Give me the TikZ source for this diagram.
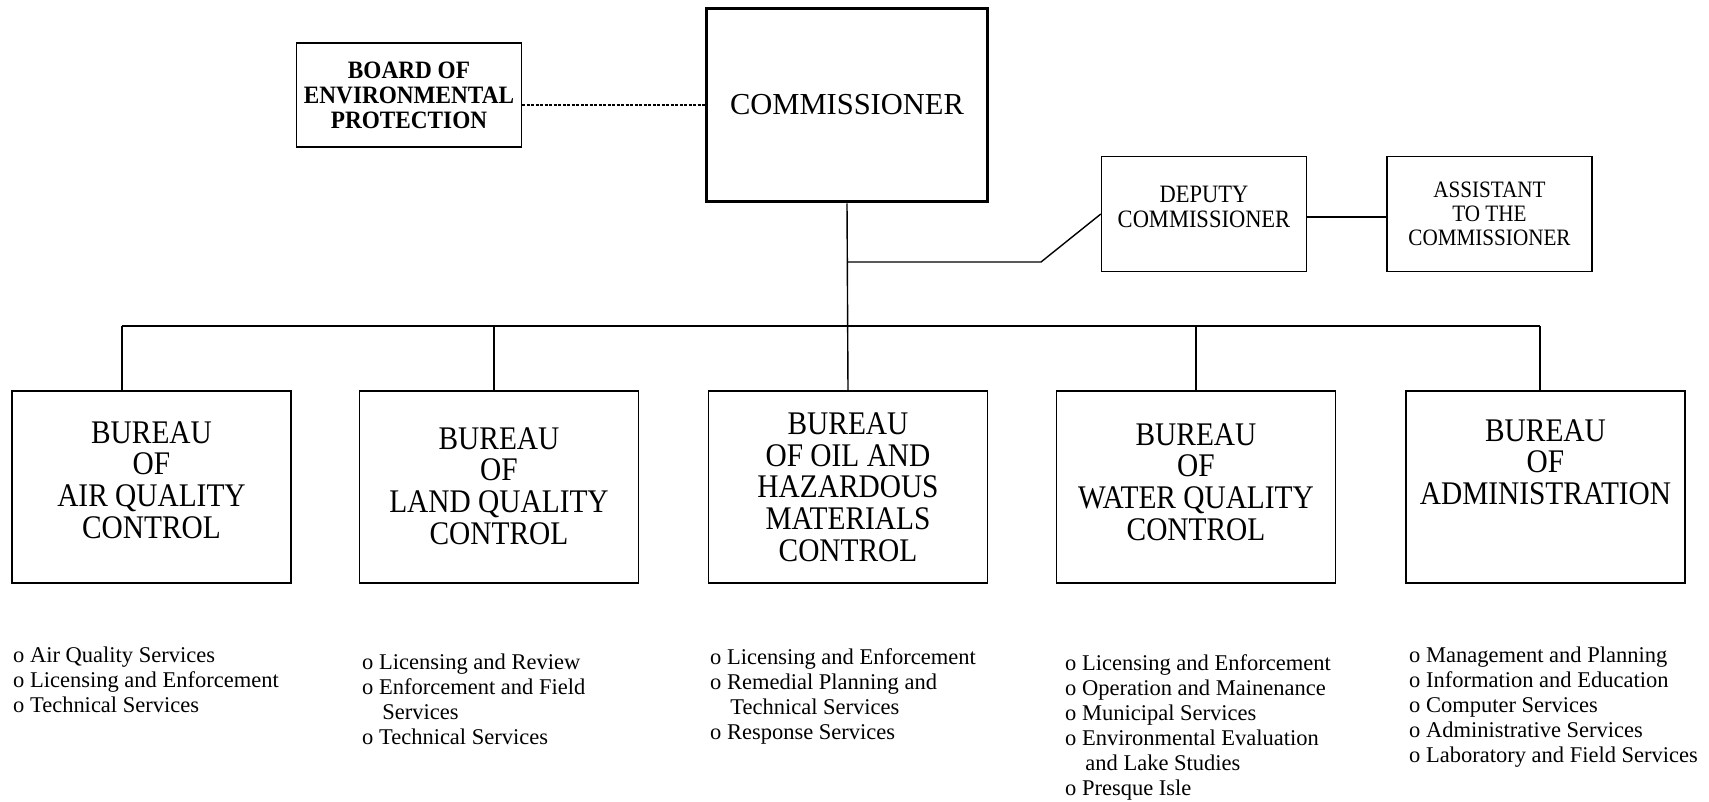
\documentclass[tikz,border=0pt]{standalone}
\usepackage{fontspec}
\setmainfont{Liberation Serif}
\newfontfamily\bureaufont[FakeStretch=0.89]{Liberation Serif}
\newfontfamily\boardfont[FakeStretch=0.93]{Liberation Serif}
\newfontfamily\officefont[FakeStretch=0.9]{Liberation Serif}
\newfontfamily\listfont{Liberation Serif}
\begin{document}
\begin{tikzpicture}[x=1pt,y=-1pt,
  box/.style={draw, line width=1.4pt, inner sep=0pt},
  bureaubox/.style={box, minimum width=279pt, minimum height=192pt},
  bureautext/.style={align=center, inner sep=0pt, font=\fontsize{33}{31.7}\selectfont\bureaufont},
  officetext/.style={align=center, inner sep=0pt},
  listtext/.style={anchor=north west, align=left, inner sep=0pt, font=\fontsize{22.5}{25}\selectfont\listfont},
  conn/.style={line width=1.4pt},
  dashconn/.style={line width=1.2pt, dash pattern=on 3pt off 1.5pt}]
\useasboundingbox (0,0) rectangle (1709,801);

% top level
\node[box, line width=3.5pt, minimum width=281pt, minimum height=193pt,
      font=\fontsize{30.5}{32}\selectfont] (comm) at (847,105) {COMMISSIONER};
\node[box, minimum width=225pt, minimum height=104pt, align=center,
      font=\fontsize{25}{25}\selectfont\boardfont\bfseries] (board) at (409,95)
      {BOARD OF\\ENVIRONMENTAL\\PROTECTION};
\node[box, minimum width=205pt, minimum height=115pt] (dep) at (1204,214) {};
\node[officetext, font=\fontsize{25}{25}\selectfont\officefont] (depT) at (1204,207)
      {DEPUTY\\COMMISSIONER};
\node[box, minimum width=205pt, minimum height=115pt, officetext,
      font=\fontsize{23.5}{24}\selectfont\officefont] (asst) at (1489.5,214)
      {ASSISTANT\\TO THE\\COMMISSIONER};

% bureaus
\node[bureaubox] (air)   at (151.5,487) {};
\node[bureaubox] (land)  at (499,487) {};
\node[bureaubox] (oil)   at (848,487) {};
\node[bureaubox] (water) at (1196,487) {};
\node[bureaubox] (admin) at (1545.5,487) {};

\node[bureautext] (airT)   at (151.5,480) {BUREAU\\OF\\AIR QUALITY\\CONTROL};
\node[bureautext] (landT)  at (499,486) {BUREAU\\OF\\LAND QUALITY\\CONTROL};
\node[bureautext] (oilT)   at (848,487) {BUREAU\\OF OIL AND\\HAZARDOUS\\MATERIALS\\CONTROL};
\node[bureautext] (waterT) at (1196,482) {BUREAU\\OF\\WATER QUALITY\\CONTROL};
\node[bureautext] (adminT) at (1545.5,462) {BUREAU\\OF\\ADMINISTRATION};

% connectors
\draw[dashconn] (board.east |- comm.west) -- (comm.west);
\draw[conn] (comm.south) -- (oil.north);
\coordinate (br) at (847,262);
\coordinate (bend) at (1041,262);
\draw[conn] (br) -- (bend) -- (dep.west);
\coordinate (da) at (1306.5,217);
\draw[conn] (da) -- (da -| asst.west);

\coordinate (busL) at (122,326);
\coordinate (busR) at (1540,326);
\coordinate (dLand) at (494,326);
\coordinate (dWater) at (1196,326);
\draw[conn] (busL) -- (busR);
\draw[conn] (busL) -- (busL |- air.north);
\draw[conn] (dLand) -- (dLand |- land.north);
\draw[conn] (dWater) -- (dWater |- water.north);
\draw[conn] (busR) -- (busR |- admin.north);

% sections
\node[listtext] (airL) at (13,647)
  {o Air Quality Services\\o Licensing and Enforcement\\o Technical Services};
\node[listtext] (landL) at (362,654)
  {o Licensing and Review\\o Enforcement and Field\\\hspace*{0.9em}Services\\o Technical Services};
\node[listtext] (oilL) at (710,648)
  {o Licensing and Enforcement\\o Remedial Planning and\\\hspace*{0.9em}Technical Services\\o Response Services};
\node[listtext] (waterL) at (1065,654)
  {o Licensing and Enforcement\\o Operation and Mainenance\\o Municipal Services\\o Environmental Evaluation\\\hspace*{0.9em}and Lake Studies\\o Presque Isle};
\node[listtext] (adminL) at (1409,647)
  {o Management and Planning\\o Information and Education\\o Computer Services\\o Administrative Services\\o Laboratory and Field Services};
\end{tikzpicture}
\end{document}
